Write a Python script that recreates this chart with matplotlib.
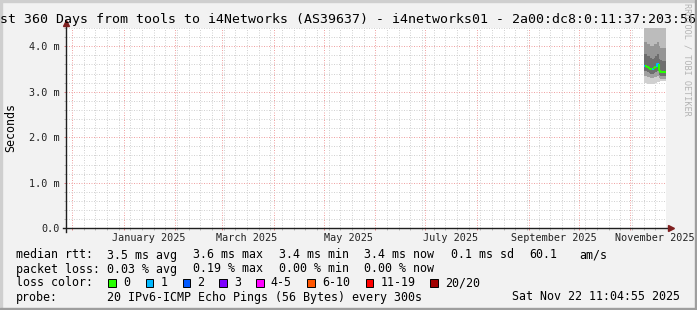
import datetime as dt

import matplotlib
matplotlib.use('Agg')
import matplotlib.pyplot as plt
import matplotlib.dates as mdates
import matplotlib.transforms as mtransforms
from matplotlib.patches import Rectangle
import numpy as np

W, H = 697, 310
mono = 'DejaVu Sans Mono'

# graph window
t_end = dt.datetime(2025, 11, 22, 11, 4, 55)
t_start = t_end - dt.timedelta(days=360)

# daily consolidated values, ms
days = [dt.datetime(2025, 11, d) for d in range(9, 23)]
median = [3.57, 3.57, 3.54, 3.53, 3.51, 3.49, 3.53, 3.55, 3.60, 3.47, 3.44, 3.43, 3.43, 3.43]
lost = [1, 0, 0, 0, 0, 1, 0, 0, 1, 0, 0, 0, 0, 0]
ping_max = [4.70, 4.70, 4.70, 4.65, 4.60, 4.60, 4.60, 4.60, 4.60, 4.50, 4.42, 4.40, 4.40, 4.40]
ping_p90 = [4.10, 4.10, 4.05, 4.05, 4.00, 4.00, 4.05, 4.05, 4.10, 4.00, 3.95, 3.95, 3.95, 3.95]
ping_p75 = [3.82, 3.82, 3.78, 3.78, 3.75, 3.72, 3.75, 3.78, 3.82, 3.72, 3.70, 3.68, 3.68, 3.68]
ping_p25 = [3.45, 3.45, 3.43, 3.42, 3.40, 3.39, 3.41, 3.43, 3.46, 3.37, 3.35, 3.34, 3.34, 3.34]
ping_p10 = [3.35, 3.35, 3.33, 3.32, 3.31, 3.30, 3.32, 3.33, 3.35, 3.30, 3.28, 3.27, 3.27, 3.27]
ping_min = [3.19, 3.19, 3.18, 3.18, 3.18, 3.17, 3.20, 3.20, 3.22, 3.22, 3.24, 3.24, 3.24, 3.24]

# legend numbers
rtt_stats = [("3.5", "avg"), ("3.6", "max"), ("3.4", "min"), ("3.4", "now"), ("0.1", "sd")]
am_s = "60.1"
loss_stats = [("0.03", "avg"), ("0.19", "max"), ("0.00", "min"), ("0.00", "now")]
loss_names = ["0", "1", "2", "3", "4-5", "6-10", "11-19", "20/20"]
loss_colors = ["#26ff00", "#00b8ff", "#0059ff", "#7e00ff", "#ff00ff", "#ff5500", "#ff0000", "#a00000"]
probe_text = "20 IPv6-ICMP Echo Pings (56 Bytes) every 300s"
stamp_text = "Sat Nov 22 11:04:55 2025"
title = "Last 360 Days from tools to i4Networks (AS39637) - i4networks01 - 2a00:dc8:0:11:37:203:56:"

y_ticks = [0, 1, 2, 3, 4]
y_labels = ["0.0", "1.0 m", "2.0 m", "3.0 m", "4.0 m"]
month_labels = [(2025, 1), (2025, 3), (2025, 5), (2025, 7), (2025, 9), (2025, 11)]


def fx(x):
    return x / W


def fy(y):
    return 1 - y / H


fig = plt.figure(figsize=(W / 100, H / 100), dpi=100, facecolor='#f2f2f2')

# 3d frame
fig.patches.append(Rectangle((0, fy(2)), 1, 2 / H, transform=fig.transFigure, color='#cfcfcf', zorder=0))
fig.patches.append(Rectangle((0, 0), 2 / W, 1, transform=fig.transFigure, color='#cfcfcf', zorder=0))
fig.patches.append(Rectangle((0, 0), 1, 2 / H, transform=fig.transFigure, color='#9e9e9e', zorder=1))
fig.patches.append(Rectangle((fx(695), 0), 2 / W, 1, transform=fig.transFigure, color='#9e9e9e', zorder=1))

ax = fig.add_axes([fx(66), fy(228.3), 600 / W, 200.3 / H])
ax.set_facecolor('white')
ax.set_xlim(mdates.date2num(t_start), mdates.date2num(t_end))
ax.set_ylim(0, 4.4)
for s in ax.spines.values():
    s.set_visible(False)

# grid
ax.xaxis.set_major_locator(mdates.MonthLocator())
ax.xaxis.set_minor_locator(mdates.WeekdayLocator(byweekday=mdates.SU))
ax.xaxis.set_major_formatter(plt.NullFormatter())
ax.set_yticks(y_ticks)
ax.set_yticks(np.arange(0, 4.41, 0.2), minor=True)
ax.set_yticklabels(y_labels, fontfamily=mono, fontsize=7.3, color='#222222')
ax.grid(which='minor', color='#d2d2d2', linestyle=(0, (1, 1.5)), linewidth=0.72)
ax.grid(which='major', color='#f0a4a4', linestyle=(0, (1, 1.5)), linewidth=0.72)
ax.set_axisbelow(True)
ax.tick_params(which='both', length=1.5, width=0.7, pad=2.9)
ax.tick_params(which='major', color='#e08080')
ax.tick_params(which='minor', color='#b8b8b8')

# smoke
edges = [mdates.date2num(d) for d in days] + [mdates.date2num(t_end)]
def ext(v):
    return list(v) + [v[-1]]

bands = [(ping_min, ping_p10, '#d0d0d0'),
         (ping_p10, ping_p25, '#a0a0a0'),
         (ping_p25, ping_p75, '#6e6e6e'),
         (ping_p75, ping_p90, '#959595'),
         (ping_p90, ping_max, '#bcbcbc')]
for lo, hi, c in bands:
    ax.fill_between(edges, ext(lo), ext(hi), step='post', color=c, linewidth=0, zorder=2)

# median, coloured by loss
for i in range(len(days)):
    c = loss_colors[min(lost[i], 1)]
    prev = median[i - 1] if i > 0 else median[i]
    ax.plot([edges[i], edges[i], edges[i + 1]], [prev, median[i], median[i]],
            color=c, linewidth=1.5, solid_capstyle='butt', zorder=3)

# axes with arrows
ax.plot([-3 / 600, 1 + 4 / 600], [0, 0], transform=ax.transAxes, clip_on=False,
        color='#1f1f1f', linewidth=1.0, zorder=4)
ax.plot([0, 0], [-3.5 / 200, 1 + 4 / 200], transform=ax.transAxes, clip_on=False,
        color='#1f1f1f', linewidth=1.0, zorder=4)
ax.plot([1 + 5 / 600], [0], marker='>', markersize=4, color='#7f1f1f',
        transform=ax.transAxes, clip_on=False, zorder=5)
ax.plot([0], [1 + 4.5 / 200], marker='^', markersize=4, color='#7f1f1f',
        transform=ax.transAxes, clip_on=False, zorder=5)

# month labels, centred half a month after month start
lab_tr = mtransforms.blended_transform_factory(ax.transData, fig.transFigure)
for yr, mo in month_labels:
    d = dt.datetime(yr, mo, 1) + dt.timedelta(days=15)
    ax.text(mdates.date2num(d), fy(240.7), dt.datetime(yr, mo, 1).strftime('%B %Y'),
            transform=lab_tr, ha='center', va='baseline', fontfamily=mono,
            fontsize=7.3, color='#222222', clip_on=False)

# title, y label, watermark
fig.text(fx(-15.5), fy(23.5), title, ha='left', va='baseline', fontfamily=mono, fontsize=9.5)
fig.text(fx(11), fy(127), 'Seconds', rotation=90, ha='center', va='center',
         fontfamily=mono, fontsize=8.4)
fig.text(fx(687), fy(59), 'RRDTOOL / TOBI OETIKER', rotation=270, ha='center', va='center',
         fontfamily=mono, fontsize=6.1, color='#b4b4b4')

# legend
def leg(x, y, s, ha='left'):
    fig.text(fx(x), fy(y), s, ha=ha, va='baseline', fontfamily=mono, fontsize=8.4)

col_x = [107, 193, 279, 364.5, 451]
leg(15.5, 258.5, 'median rtt:')
for x, (v, n) in zip(col_x, rtt_stats):
    leg(x, 258.5, '%s ms %s' % (v, n))
leg(529.5, 258.5, am_s)
leg(579, 258.5, 'am/s')

leg(15.5, 272.5, 'packet loss:')
for x, (v, n) in zip(col_x, loss_stats):
    leg(x, 272.5, '%s %% %s' % (v, n))

leg(15.5, 286.5, 'loss color:')
box_x = [108.3, 145.7, 182.7, 219.3, 256, 307.3, 365.7, 430.3]
for x, name, c in zip(box_x, loss_names, loss_colors):
    fig.patches.append(Rectangle((fx(x), fy(286.5)), 7.7 / W, 8 / H, transform=fig.transFigure,
                                 facecolor=c, edgecolor='black', linewidth=0.7, zorder=3))
    leg(x + 14.7, 286.5, name)

leg(15.5, 300.5, 'probe:')
leg(107, 300.5, probe_text)
leg(680.5, 300.5, stamp_text, ha='right')

fig.savefig('out.png', dpi=100, facecolor=fig.get_facecolor())
